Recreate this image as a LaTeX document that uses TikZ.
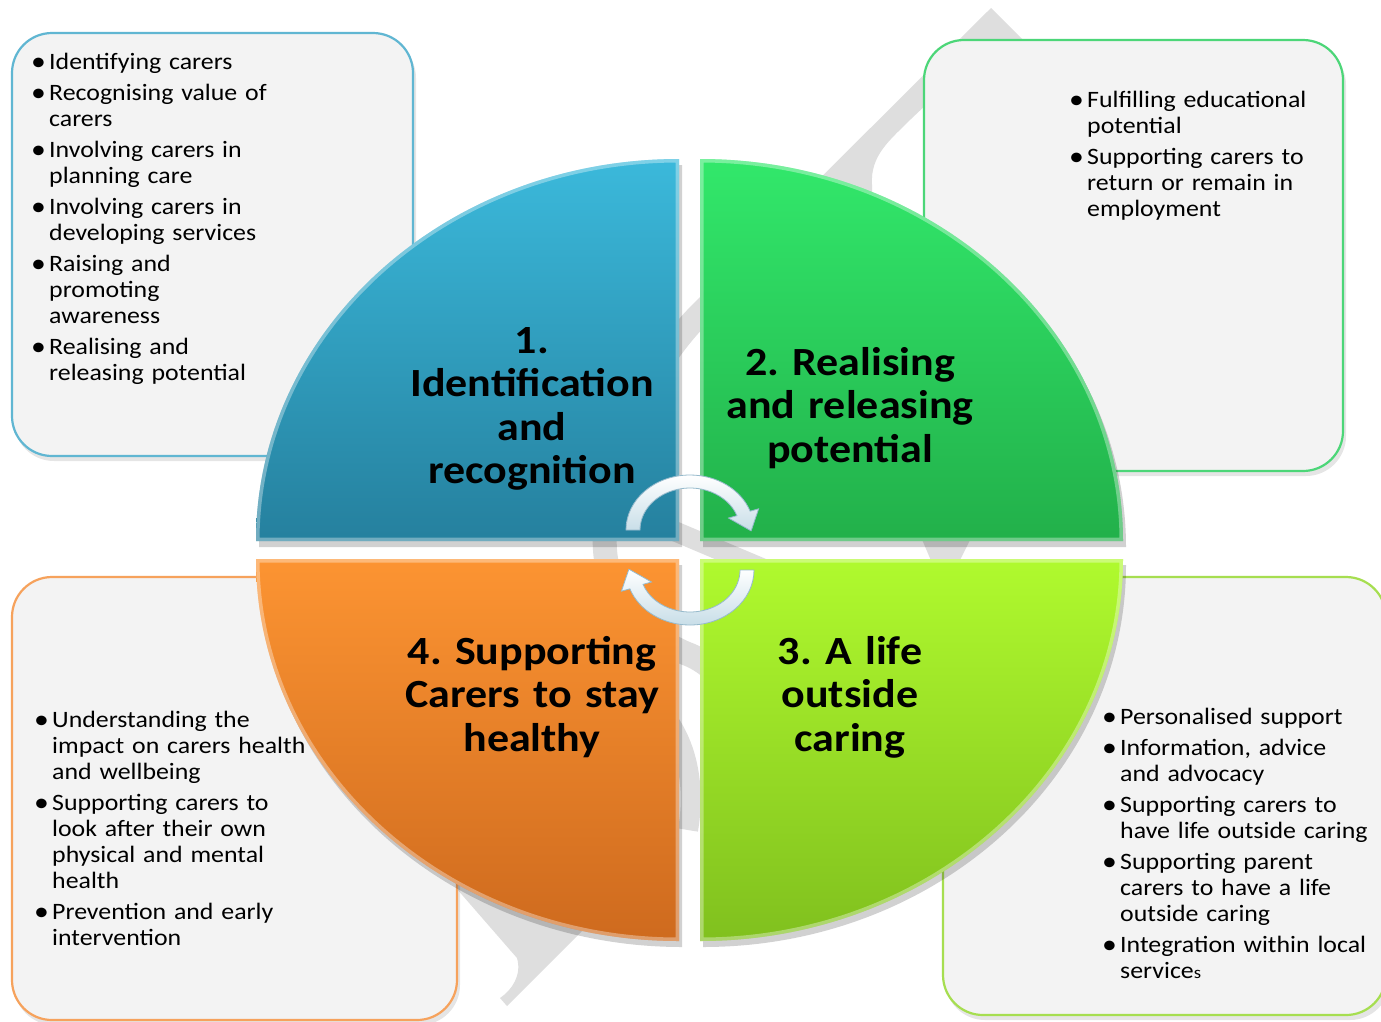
\documentclass[tikz,border=0pt]{standalone}
\usepackage{fontspec}
\setmainfont{Carlito}[FakeStretch=1.1]
\usetikzlibrary{calc}

\definecolor{qAtop}{RGB}{59,185,219}
\definecolor{qAbot}{RGB}{37,128,158}
\definecolor{qBtop}{RGB}{50,232,107}
\definecolor{qBbot}{RGB}{34,176,74}
\definecolor{qCtop}{RGB}{176,250,46}
\definecolor{qCbot}{RGB}{128,192,30}
\definecolor{qDtop}{RGB}{252,148,50}
\definecolor{qDbot}{RGB}{206,106,30}
\definecolor{panelfill}{RGB}{243,243,243}
\definecolor{edgeA}{RGB}{96,182,210}
\definecolor{edgeB}{RGB}{76,214,120}
\definecolor{edgeC}{RGB}{166,222,80}
\definecolor{edgeD}{RGB}{246,162,92}
\definecolor{markgray}{RGB}{222,222,222}
\definecolor{ringfill}{RGB}{200,222,232}
\definecolor{ringedge}{RGB}{150,186,204}

% one bulleted entry with a hanging indent; lines are broken with \newline
\newcommand\bul[1]{\hangindent=18pt\hangafter=1\noindent
  \makebox[18pt][l]{\raisebox{-1.2pt}{\fontsize{27}{26}\selectfont •}}#1\par}
\newcommand\listsetup{\raggedright\frenchspacing\setlength\parskip{5pt}\setlength\parindent{0pt}}

\tikzset{
  panelbox/.style={fill=panelfill, line width=2.2pt, rounded corners=40pt},
  panelshade/.style={fill=black, opacity=0.10, rounded corners=40pt},
  listtext/.style={inner sep=0pt, text width=400pt,
    font=\fontsize{23.5}{26}\selectfont},
  headtext/.style={inner sep=0pt, text width=320pt, align=center,
    font=\frenchspacing\bfseries\fontsize{40}{43.5}\selectfont},
  ringarrow/.style={top color=white, bottom color=ringfill, draw=ringedge, line width=0.8pt},
  qApath/.style={insert path={(679,541) -- (256,541) arc[start angle=180,end angle=270,x radius=423,y radius=382] -- cycle}},
  qBpath/.style={insert path={(700,541) -- (700,159) arc[start angle=270,end angle=360,x radius=423,y radius=382] -- cycle}},
  qCpath/.style={insert path={(700,559) -- (1123,559) arc[start angle=0,end angle=90,x radius=423,y radius=382] -- cycle}},
  qDpath/.style={insert path={(679,559) -- (679,941) arc[start angle=90,end angle=180,x radius=423,y radius=382] -- cycle}},
}

\begin{document}
\begin{tikzpicture}[x=1pt,y=-1pt]
\useasboundingbox (0,0) rectangle (1381,1021);
\fill[white] (0,0) rectangle (1381,1021);

% faint background mark
\fill[markgray] (991,8) -- (1070,87) -- (928,103) -- (912,118)
  .. controls (890,140) and (870,155) .. (872,185) -- (872,240) -- (758,240) -- cycle;
\draw[markgray, line width=24pt] (790,224) -- (700,314)
  .. controls (640,375) and (600,470) .. (605,550)
  .. controls (608,600) and (650,640) .. (690,655)
  .. controls (720,668) and (740,700) .. (750,720);
\draw[markgray, line width=20pt] (660,525) -- (790,580);
\fill[markgray] (918,530) -- (975,530) -- (955,570) -- (935,570) -- cycle;
\draw[markgray, line width=20pt] (655,705) .. controls (690,740) and (695,790) .. (688,830);
\fill[markgray] (430,858) -- (517,958) .. controls (522,975) and (512,990) .. (500,998)
  -- (507,1006) -- (650,863) -- (560,800) -- cycle;

% side panels
\fill[panelshade] (14,38) rectangle (416,461);
\draw[panelbox, draw=edgeA] (12,33) rectangle (413,456);
\fill[panelshade] (926,45) rectangle (1346,476);
\draw[panelbox, draw=edgeB] (924,40) rectangle (1343,471);
\fill[panelshade] (14,582) rectangle (460,1025);
\draw[panelbox, draw=edgeD] (12,577) rectangle (457,1020);
\fill[panelshade] (945,582) rectangle (1390,1020);
\draw[panelbox, draw=edgeC] (943,577) rectangle (1386,1015);

% quadrant shadows
\begin{scope}[shift={(3,6)}]
  \fill[black, opacity=0.18, qApath];
  \fill[black, opacity=0.18, qBpath];
  \fill[black, opacity=0.18, qCpath];
  \fill[black, opacity=0.18, qDpath];
\end{scope}

% quadrants
\shade[top color=qAtop, bottom color=qAbot, qApath];
\shade[top color=qBtop, bottom color=qBbot, qBpath];
\shade[top color=qCtop, bottom color=qCbot, qCpath];
\shade[top color=qDtop, bottom color=qDbot, qDpath];
\begin{scope}\clip[qApath]; \draw[white, opacity=0.35, line width=7pt, qApath]; \end{scope}
\begin{scope}\clip[qBpath]; \draw[white, opacity=0.35, line width=7pt, qBpath]; \end{scope}
\begin{scope}\clip[qCpath]; \draw[white, opacity=0.35, line width=7pt, qCpath]; \end{scope}
\begin{scope}\clip[qDpath]; \draw[white, opacity=0.35, line width=7pt, qDpath]; \end{scope}

% cycle arrows
\coordinate (ra) at (690,530);
\coordinate (rb) at (690,570);
\shadedraw[ringarrow] ($(ra)+(180:64 and 55)$) arc[start angle=180,end angle=340,x radius=64,y radius=55]
  -- ($(ra)+(340:73 and 62)$) -- ($(ra)+(340:57 and 48.5)+(66.6:19)$)
  -- ($(ra)+(340:41 and 35)$) -- ($(ra)+(340:50 and 42)$)
  arc[start angle=340,end angle=180,x radius=50,y radius=42] -- cycle;
\shadedraw[ringarrow] ($(rb)+(0:64 and 55)$) arc[start angle=0,end angle=160,x radius=64,y radius=55]
  -- ($(rb)+(160:73 and 62)$) -- ($(rb)+(160:57 and 48.5)+(246.6:19)$)
  -- ($(rb)+(160:41 and 35)$) -- ($(rb)+(160:50 and 42)$)
  arc[start angle=160,end angle=0,x radius=50,y radius=42] -- cycle;

% quadrant titles
\node[headtext, anchor=base] (hA) at (532,353) {1.\\Identification\\and\\recognition};
\node[headtext, anchor=base] (hB) at (850,375) {2. Realising\\and releasing\\potential};
\node[headtext, anchor=base] (hC) at (850,664) {3. A life\\outside\\caring};
\node[headtext, anchor=base] (hD) at (532,664) {4. Supporting\\Carers to stay\\healthy};

% panel lists
\node[listtext, anchor=base west] (lA) at (31,69) {\listsetup
  \bul{Identifying carers}
  \bul{Recognising value of\newline carers}
  \bul{Involving carers in\newline planning care}
  \bul{Involving carers in\newline developing services}
  \bul{Raising and\newline promoting\newline awareness}
  \bul{Realising and\newline releasing potential}};
\node[listtext, anchor=base west] (lB) at (1069,107) {\listsetup
  \bul{Fulfilling educational\newline potential}
  \bul{Supporting carers to\newline return or remain in\newline employment}};
\node[listtext, anchor=base west] (lD) at (34,727) {\listsetup
  \bul{Understanding the\newline impact on carers health\newline and wellbeing}
  \bul{Supporting carers to\newline look after their own\newline physical and mental\newline health}
  \bul{Prevention and early\newline intervention}};
\node[listtext, anchor=base west] (lC) at (1102,724) {\listsetup
  \bul{Personalised support}
  \bul{Information, advice\newline and advocacy}
  \bul{Supporting carers to\newline have life outside caring}
  \bul{Supporting parent\newline carers to have a life\newline outside caring}
  \bul{Integration within local\newline service{\fontsize{17}{26}\selectfont s}}};
\end{tikzpicture}
\end{document}
